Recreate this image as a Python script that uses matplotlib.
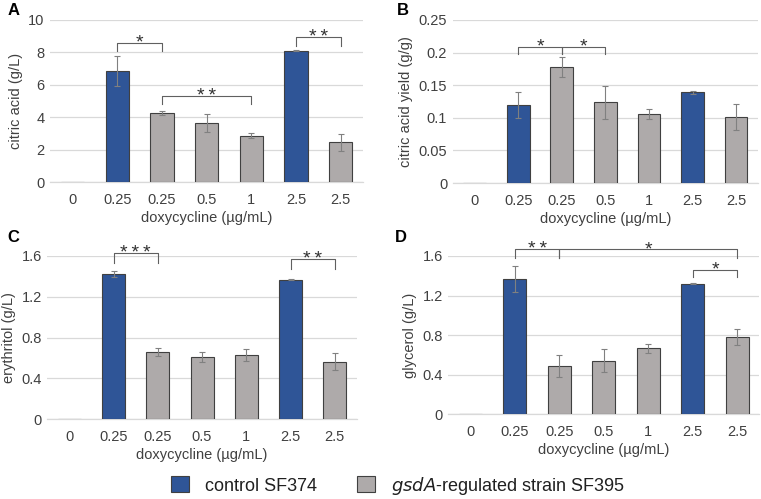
import matplotlib.pyplot as plt
from matplotlib.patches import Patch

plt.rcParams['font.family'] = ['Liberation Sans', 'DejaVu Sans']

# data
doses = ['0', '0.25', '0.25', '0.5', '1', '2.5', '2.5']
is_control = [False, True, False, False, False, True, False]

citric = [0, 6.85, 4.25, 3.65, 2.85, 8.1, 2.45]
citric_err = [0, 0.95, 0.12, 0.55, 0.15, 0.03, 0.5]

yield_cit = [0, 0.12, 0.178, 0.124, 0.106, 0.139, 0.101]
yield_err = [0, 0.02, 0.016, 0.025, 0.008, 0.002, 0.02]

erythritol = [0, 1.42, 0.66, 0.61, 0.63, 1.365, 0.565]
erythritol_err = [0, 0.03, 0.04, 0.05, 0.055, 0.005, 0.08]

glycerol = [0, 1.365, 0.49, 0.54, 0.665, 1.32, 0.78]
glycerol_err = [0, 0.13, 0.11, 0.115, 0.045, 0.003, 0.08]

# significance brackets: (left bar, right bar, bracket height, leg length, stars)
sig_a = [(1, 2, 8.6, 0.5, '*'), (2, 4, 5.33, 0.5, '**'), (5, 6, 8.97, 0.55, '**')]
sig_b = [(1, 2, 0.209, 0.011, '*'), (2, 3, 0.209, 0.011, '*')]
sig_c = [(1, 2, 1.626, 0.09, '***'), (5, 6, 1.567, 0.09, '**')]
sig_d = [(1, 2, 1.668, 0.09, '**'), (2, 6, 1.668, 0.09, '*'), (5, 6, 1.458, 0.07, '*')]

blue = '#2F5597'
gray = '#AEAAAA'
edge = '#404040'
gridc = '#D9D9D9'
textc = '#404040'

fig = plt.figure(figsize=(7.61, 4.99), dpi=100)


def panel(rect, vals, errs, ymax, ystep, ylabel, fmt, sigs, letter, letter_xy):
    ax = fig.add_axes(rect)
    x = list(range(len(doses)))
    colors = [blue if c else gray for c in is_control]
    ax.bar(x, vals, width=0.52, color=colors, edgecolor=edge, linewidth=0.8, zorder=3)
    shown = [i for i in x if vals[i] > 0]
    ax.errorbar(shown, [vals[i] for i in shown], yerr=[errs[i] for i in shown],
                fmt='none', ecolor='#808080', elinewidth=0.8, capsize=2.5, capthick=0.8, zorder=4)
    ax.set_xlim(-0.5, len(doses) - 0.5)
    ax.set_ylim(0, ymax)
    ticks = [i * ystep for i in range(int(round(ymax / ystep)) + 1)]
    ax.set_yticks(ticks)
    ax.set_yticklabels([fmt(t) for t in ticks])
    ax.set_xticks(x)
    ax.set_xticklabels(doses)
    ax.tick_params(length=0, labelsize=10.5, colors=textc, pad=8)
    ax.tick_params(axis='y', pad=4)
    ax.grid(axis='y', color=gridc, linewidth=0.9, zorder=0)
    for s in ['top', 'right', 'left']:
        ax.spines[s].set_visible(False)
    ax.spines['bottom'].set_color(gridc)
    ax.spines['bottom'].set_linewidth(0.9)
    ax.set_xlabel('doxycycline (µg/mL)', fontsize=10.5, color=textc, labelpad=3)
    ax.set_ylabel(ylabel, fontsize=10.5, color=textc, labelpad=4)
    for a, b, h, leg, stars in sigs:
        ax.plot([a, a, b, b], [h - leg, h, h, h - leg], color='#606060', lw=0.8,
                zorder=5, clip_on=False)
        ax.annotate('\u2009'.join(stars), ((a + b) / 2, h), xytext=(0, -3.5),
                    textcoords='offset points', ha='center', va='baseline',
                    fontsize=14, color='#303030', annotation_clip=False)
    fig.text(letter_xy[0], letter_xy[1], letter, fontsize=12, fontweight='bold',
             ha='left', va='center')
    return ax


def fmt_int(t):
    return '%d' % round(t)


def fmt_g(t):
    return '0' if t == 0 else ('%g' % round(t, 3))


def fmt_1(t):
    return '0' if t == 0 else '%.1f' % t


panel([0.066, 0.635, 0.411, 0.325], citric, citric_err, 10, 2, 'citric acid (g/L)',
      fmt_int, sig_a, 'A', (0.010, 0.978))
panel([0.595, 0.633, 0.401, 0.327], yield_cit, yield_err, 0.25, 0.05, 'citric acid yield (g/g)',
      fmt_g, sig_b, 'B', (0.521, 0.978))
panel([0.062, 0.160, 0.407, 0.327], erythritol, erythritol_err, 1.6, 0.4, 'erythritol (g/L)',
      fmt_1, sig_c, 'C', (0.010, 0.525))
panel([0.589, 0.170, 0.409, 0.317], glycerol, glycerol_err, 1.6, 0.4, 'glycerol (g/L)',
      fmt_1, sig_d, 'D', (0.519, 0.525))

handles = [Patch(facecolor=blue, edgecolor=edge, linewidth=0.8),
           Patch(facecolor=gray, edgecolor=edge, linewidth=0.8)]
labels = ['control SF374', r'$\it{gsdA}$-regulated strain SF395']
fig.legend(handles, labels, loc='center', bbox_to_anchor=(0.523, 0.027), ncol=2,
           frameon=False, fontsize=13, handlelength=1.0, handleheight=1.0,
           handletextpad=0.9, columnspacing=2.2, labelcolor='#202020')

fig.savefig('out.png', dpi=100)
